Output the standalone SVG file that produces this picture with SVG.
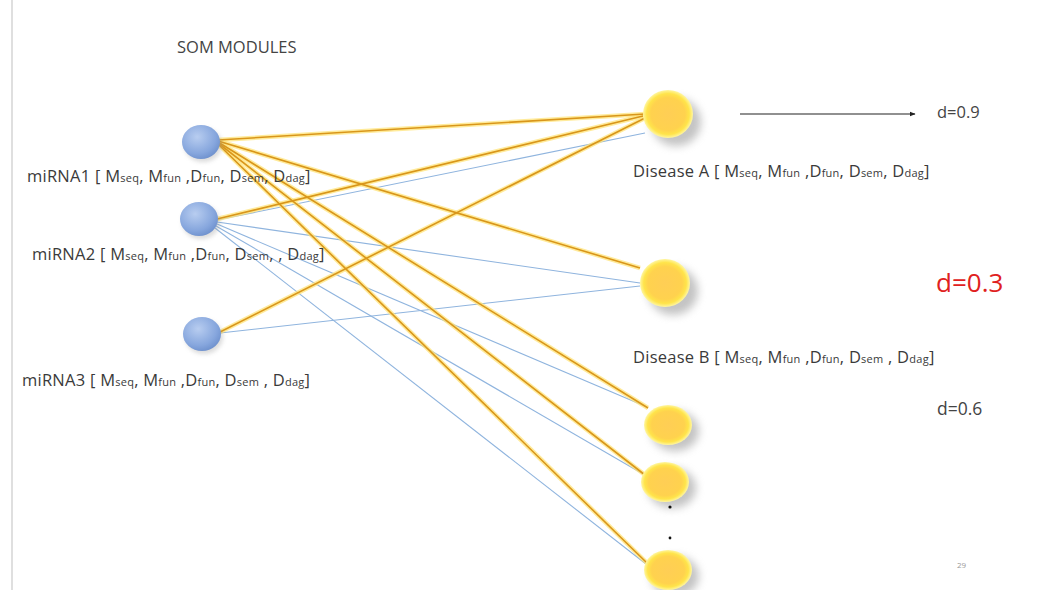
<svg xmlns="http://www.w3.org/2000/svg" width="1037" height="590" viewBox="0 0 1037 590">
<defs>
<style>
.lbl{font-family:"Open Sans","Liberation Sans",sans-serif;font-size:16.5px;fill:#3a3a3a;letter-spacing:0.25px}
.sub{font-size:11px}
.og{stroke:#FFE47A;stroke-width:4.5;opacity:0.75;fill:none}
.oc{stroke:#D9961A;stroke-width:1.6;fill:none}
.bl{stroke:#8FB4DE;stroke-width:1.1;fill:none}
.d{font-family:"Open Sans","Liberation Sans",sans-serif;fill:#444}
</style>
<radialGradient id="gb" cx="0.4" cy="0.35" r="0.7">
<stop offset="0" stop-color="#B8CDF0"/>
<stop offset="0.7" stop-color="#86A6DD"/>
<stop offset="1" stop-color="#6C8FCC"/>
</radialGradient>
<radialGradient id="gy" cx="0.5" cy="0.5" r="0.5">
<stop offset="0" stop-color="#FFCE55"/>
<stop offset="0.68" stop-color="#FFD24E"/>
<stop offset="0.85" stop-color="#FFE44A"/>
<stop offset="1" stop-color="#FFF6A0"/>
</radialGradient>
<filter id="sh" x="-50%" y="-50%" width="200%" height="200%">
<feGaussianBlur stdDeviation="4"/>
</filter>
<filter id="shb" x="-50%" y="-50%" width="200%" height="200%">
<feGaussianBlur stdDeviation="2"/>
</filter>
<marker id="ar" viewBox="0 0 10 10" refX="9" refY="5" markerWidth="5" markerHeight="5" orient="auto">
<path d="M0,1 L10,5 L0,9 z" fill="#222"/>
</marker>
</defs>
<rect width="1037" height="590" fill="#fff"/>
<line x1="12" y1="0" x2="12" y2="590" stroke="#d4d4d4" stroke-width="1.5"/>
<text class="d" x="177" y="53" font-size="16.5">SOM MODULES</text>

<g id="connectors">
<g id="blue">
<line class="bl" x1="217" y1="220" x2="645" y2="133"/>
<line class="bl" x1="217" y1="222" x2="640" y2="283"/>
<line class="bl" x1="217" y1="224" x2="647" y2="407"/>
<line class="bl" x1="216" y1="226" x2="643" y2="474"/>
<line class="bl" x1="215" y1="228" x2="646" y2="564"/>
<line class="bl" x1="220" y1="333" x2="640" y2="286"/>
</g>
<g id="orange-glow">
<line class="og" x1="218" y1="140" x2="645" y2="114"/>
<line class="og" x1="218" y1="141" x2="640" y2="268"/>
<line class="og" x1="218" y1="142" x2="648" y2="408"/>
<line class="og" x1="218" y1="143" x2="645" y2="475"/>
<line class="og" x1="218" y1="144" x2="648" y2="564"/>
<line class="og" x1="217" y1="219" x2="643" y2="116"/>
<line class="og" x1="220" y1="332" x2="645" y2="118"/>
</g>
<g id="orange">
<line class="oc" x1="218" y1="140" x2="645" y2="114"/>
<line class="oc" x1="218" y1="141" x2="640" y2="268"/>
<line class="oc" x1="218" y1="142" x2="648" y2="408"/>
<line class="oc" x1="218" y1="143" x2="645" y2="475"/>
<line class="oc" x1="218" y1="144" x2="648" y2="564"/>
<line class="oc" x1="217" y1="219" x2="643" y2="116"/>
<line class="oc" x1="220" y1="332" x2="645" y2="118"/>
</g>
<line x1="740" y1="114" x2="915" y2="114" stroke="#222" stroke-width="1.2" marker-end="url(#ar)"/>
</g>

<g id="miRNA1">
<ellipse cx="203" cy="145" rx="19" ry="17" fill="#999" opacity="0.35" filter="url(#shb)"/>
<ellipse cx="201" cy="142" rx="19" ry="17" fill="url(#gb)"/>
<text class="lbl" x="27" y="182">miRNA1 [ M<tspan class="sub">seq</tspan>, M<tspan class="sub">fun</tspan> ,D<tspan class="sub">fun</tspan>, D<tspan class="sub">sem</tspan>, D<tspan class="sub">dag</tspan>]</text>
</g>
<g id="miRNA2">
<ellipse cx="201" cy="222" rx="19" ry="17" fill="#999" opacity="0.35" filter="url(#shb)"/>
<ellipse cx="199" cy="219" rx="19" ry="17" fill="url(#gb)"/>
<text class="lbl" x="32" y="260">miRNA2 [ M<tspan class="sub">seq</tspan>, M<tspan class="sub">fun</tspan> ,D<tspan class="sub">fun</tspan>, D<tspan class="sub">sem</tspan>, , D<tspan class="sub">dag</tspan>]</text>
</g>
<g id="miRNA3">
<ellipse cx="204" cy="337" rx="19" ry="17" fill="#999" opacity="0.35" filter="url(#shb)"/>
<ellipse cx="202" cy="334" rx="19" ry="17" fill="url(#gb)"/>
<text class="lbl" x="22" y="386">miRNA3 [ M<tspan class="sub">seq</tspan>, M<tspan class="sub">fun</tspan> ,D<tspan class="sub">fun</tspan>, D<tspan class="sub">sem</tspan> , D<tspan class="sub">dag</tspan>]</text>
</g>

<g id="diseaseA">
<ellipse cx="676" cy="122" rx="25" ry="24" fill="#888" opacity="0.5" filter="url(#sh)"/>
<ellipse cx="668" cy="114" rx="25" ry="24" fill="url(#gy)"/>
<text class="lbl" x="633" y="177">Disease A [ M<tspan class="sub">seq</tspan>, M<tspan class="sub">fun</tspan> ,D<tspan class="sub">fun</tspan>, D<tspan class="sub">sem</tspan>, D<tspan class="sub">dag</tspan>]</text>
</g>
<g id="diseaseB">
<ellipse cx="673" cy="291" rx="25" ry="24" fill="#888" opacity="0.5" filter="url(#sh)"/>
<ellipse cx="665" cy="283" rx="25" ry="24" fill="url(#gy)"/>
<text class="lbl" x="633" y="363">Disease B [ M<tspan class="sub">seq</tspan>, M<tspan class="sub">fun</tspan> ,D<tspan class="sub">fun</tspan>, D<tspan class="sub">sem</tspan> , D<tspan class="sub">dag</tspan>]</text>
</g>
<g id="disease3">
<ellipse cx="675" cy="431" rx="24" ry="20" fill="#888" opacity="0.5" filter="url(#sh)"/>
<ellipse cx="668" cy="425" rx="24" ry="20" fill="url(#gy)"/>
</g>
<g id="disease4">
<ellipse cx="672" cy="488" rx="24" ry="20" fill="#888" opacity="0.5" filter="url(#sh)"/>
<ellipse cx="665" cy="482" rx="24" ry="20" fill="url(#gy)"/>
</g>
<g id="disease5">
<ellipse cx="675" cy="576" rx="24" ry="20" fill="#888" opacity="0.5" filter="url(#sh)"/>
<ellipse cx="668" cy="570" rx="24" ry="20" fill="url(#gy)"/>
</g>
<g id="dots">
<circle cx="670" cy="507" r="1.6" fill="#111"/>
<circle cx="670" cy="538" r="1.4" fill="#111"/>
</g>

<text class="d" x="937" y="118" font-size="16.5">d=0.9</text>
<text class="d" x="936" y="292" font-size="26" style="fill:#E02020">d=0.3</text>
<text class="d" x="937" y="415" font-size="17.5">d=0.6</text>
<text class="d" x="957" y="568" font-size="8" style="fill:#999">29</text>
</svg>
